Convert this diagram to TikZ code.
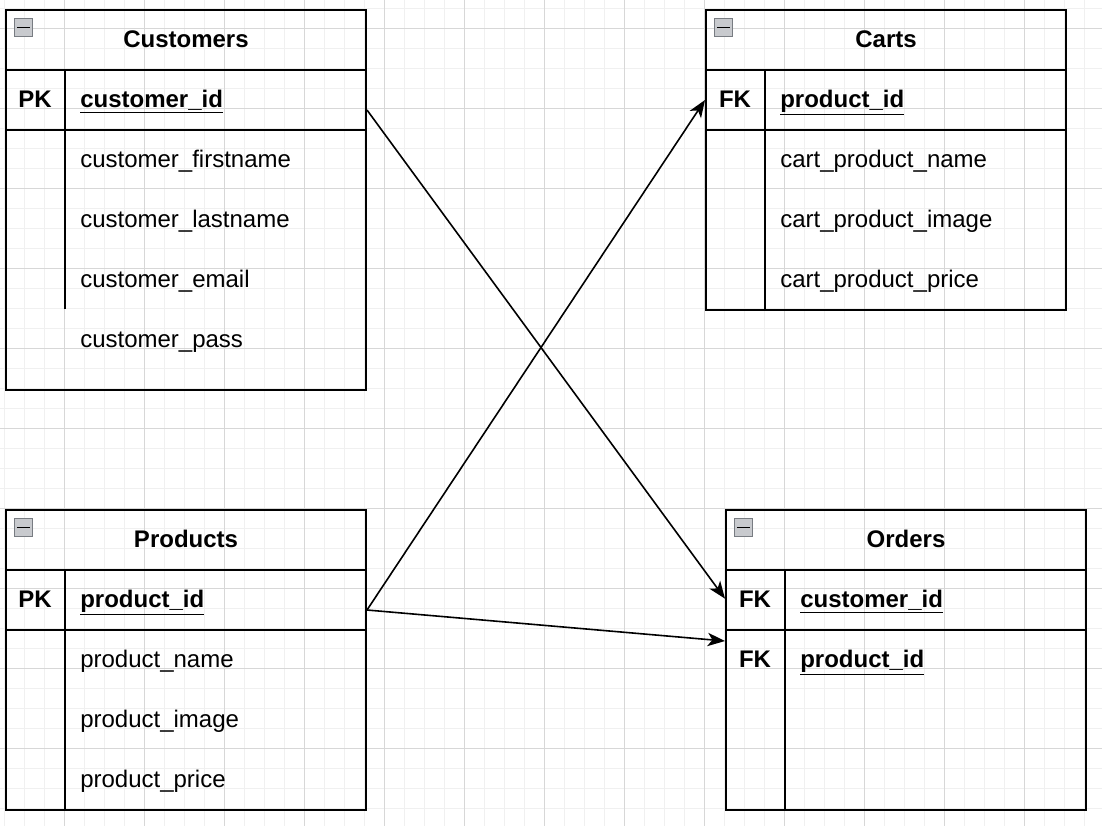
\documentclass[tikz,border=0pt]{standalone}
\usepackage{fontspec}
\setmainfont{Liberation Sans}
\usepackage{xcolor}
\usetikzlibrary{arrows.meta, positioning, calc}
\definecolor{gridminor}{RGB}{240, 240, 240}
\definecolor{gridmajor}{RGB}{215, 215, 215}
\definecolor{iconfill}{RGB}{200, 202, 206}
\definecolor{iconline}{RGB}{120, 124, 130}
\tikzset{
  minorline/.style={draw=gridminor, line width=0.75pt},
  majorline/.style={draw=gridmajor, line width=0.75pt},
  tableframe/.style={draw, line width=1.5pt, anchor=north west, inner sep=0pt,
                     minimum width=270pt, minimum height=#1},
  tableframe/.default=225pt,
  rowbox/.style={draw, line width=1.5pt, anchor=north west, inner sep=0pt,
                 minimum width=270pt, minimum height=45pt},
  freerow/.style={rowbox, draw=none},
  divider/.style={line width=1.5pt},
  tabletitle/.style={font=\bfseries},
  keytag/.style={font=\bfseries, text height=13pt, text depth=1pt},
  field/.style={anchor=west, inner sep=0pt, text height=13pt, text depth=1pt},
  keyfield/.style={field, font=\bfseries},
  collapse/.style={draw=iconline, fill=iconfill, line width=0.75pt, anchor=north west,
                   minimum size=13.5pt, inner sep=0pt},
  link/.style={-{Stealth[length=13pt, width=10pt, inset=3.5pt]}, line width=1.2pt},
}

\begin{document}
\begin{tikzpicture}[x=0.75pt, y=-0.75pt, node font=\fontsize{18pt}{22pt}\selectfont]
  \useasboundingbox (0,0) rectangle (1102,826);
  % background grid
  \fill[white] (0,0) rectangle (1102,826);
  \foreach \x in {4,24,...,1102} \draw[minorline] (\x,0) -- (\x,826);
  \foreach \y in {8,28,...,826} \draw[minorline] (0,\y) -- (1102,\y);
  \foreach \x in {64,144,...,1102} \draw[majorline] (\x,0) -- (\x,826);
  \foreach \y in {28,108,...,826} \draw[majorline] (0,\y) -- (1102,\y);

  % Customers
  \node[tableframe=285pt] (cust) at (5,9) {};
  \node[rowbox] (custhead) at (5,9) {};
  \node[rowbox] (custpk) at (5,69) {};
  \node[collapse] (custicon) at (14,18) {};
  \draw[line width=1.2pt] ($(custicon.west)+(3,0)$) -- ($(custicon.east)+(-3,0)$);
  \node[tabletitle] (custtitle) at ([yshift=0.75pt]custhead.center) {Customers};
  \node[keytag] (custpktag) at (35,99) {PK};
  \node[keyfield] (custid) at (80,99) {\underline{customer\_id}};
  \node[field] (custfirst) at (80,159) {customer\_firstname};
  \node[field] (custlast) at (80,219) {customer\_lastname};
  \node[field] (custmail) at (80,279) {customer\_email};
  \node[field] (custpass) at (80,339) {customer\_pass};
  \draw[divider] (65,69) -- (65,309);

  % Carts
  \node[tableframe] (cart) at (705,9) {};
  \node[rowbox] (carthead) at (705,9) {};
  \node[rowbox] (cartfk) at (705,69) {};
  \node[collapse] (carticon) at (714,18) {};
  \draw[line width=1.2pt] ($(carticon.west)+(3,0)$) -- ($(carticon.east)+(-3,0)$);
  \node[tabletitle] (carttitle) at ([yshift=0.75pt]carthead.center) {Carts};
  \node[keytag] (cartfktag) at (735,99) {FK};
  \node[keyfield] (cartid) at (780,99) {\underline{product\_id}};
  \node[field] (cartname) at (780,159) {cart\_product\_name};
  \node[field] (cartimage) at (780,219) {cart\_product\_image};
  \node[field] (cartprice) at (780,279) {cart\_product\_price};
  \draw[divider] (765,69) -- (765,309);

  % Products
  \node[tableframe] (prod) at (5,509) {};
  \node[rowbox] (prodhead) at (5,509) {};
  \node[rowbox] (prodpk) at (5,569) {};
  \node[collapse] (prodicon) at (14,518) {};
  \draw[line width=1.2pt] ($(prodicon.west)+(3,0)$) -- ($(prodicon.east)+(-3,0)$);
  \node[tabletitle] (prodtitle) at ([yshift=0.75pt]prodhead.center) {Products};
  \node[keytag] (prodpktag) at (35,599) {PK};
  \node[keyfield] (prodid) at (80,599) {\underline{product\_id}};
  \node[field] (prodname) at (80,659) {product\_name};
  \node[field] (prodimage) at (80,719) {product\_image};
  \node[field] (prodprice) at (80,779) {product\_price};
  \draw[divider] (65,569) -- (65,809);

  % Orders
  \node[tableframe] (ord) at (725,509) {};
  \node[rowbox] (ordhead) at (725,509) {};
  \node[rowbox] (ordcust) at (725,569) {};
  \node[freerow] (ordprod) at (725,629) {};
  \node[collapse] (ordicon) at (734,518) {};
  \draw[line width=1.2pt] ($(ordicon.west)+(3,0)$) -- ($(ordicon.east)+(-3,0)$);
  \node[tabletitle] (ordtitle) at ([yshift=0.75pt]ordhead.center) {Orders};
  \node[keytag] (ordfktag) at (755,599) {FK};
  \node[keyfield] (ordcustid) at (800,599) {\underline{customer\_id}};
  \node[keytag] (ordfktagb) at (755,659) {FK};
  \node[keyfield] (ordprodid) at (800,659) {\underline{product\_id}};
  \draw[divider] (785,569) -- (785,809);

  % relations
  \draw[link] ([yshift=-7.5pt]custpk.east) -- ([yshift=1pt]ordcust.west);
  \draw[link] ([yshift=-7.5pt]prodpk.east) -- (cartfk.west);
  \draw[link] ([yshift=-7.5pt]prodpk.east) -- ([yshift=-9pt]ordprod.north west);
\end{tikzpicture}
\end{document}
